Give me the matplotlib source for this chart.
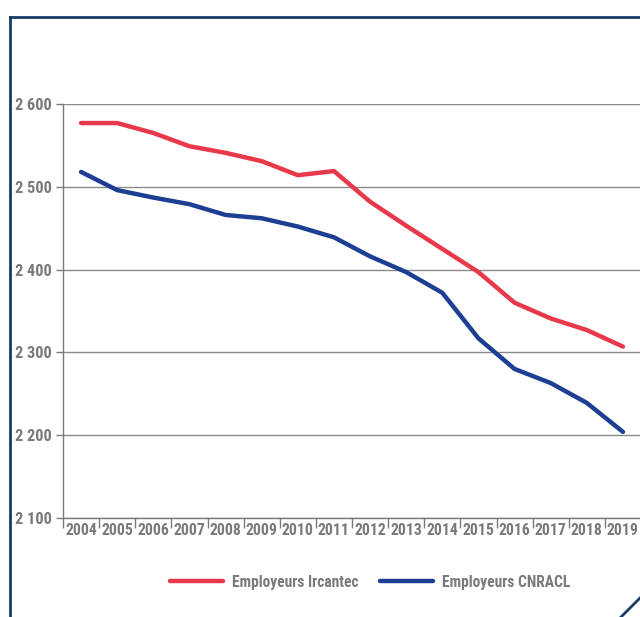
import matplotlib
matplotlib.use("Agg")
import matplotlib.pyplot as plt
from matplotlib.lines import Line2D
from matplotlib import font_manager

years = ["2004", "2005", "2006", "2007", "2008", "2009", "2010", "2011",
         "2012", "2013", "2014", "2015", "2016", "2017", "2018", "2019"]
ircantec = [2577, 2577, 2565, 2549, 2541, 2531, 2514, 2519,
            2482, 2453, 2425, 2397, 2360, 2341, 2327, 2307]
cnracl = [2518, 2496, 2487, 2479, 2466, 2462, 2452, 2439,
          2416, 2397, 2372, 2317, 2280, 2263, 2239, 2204]
y_ticks = [2100, 2200, 2300, 2400, 2500, 2600]
y_labels = ["2 100", "2 200", "2 300", "2 400", "2 500", "2 600"]
series_names = ["Employeurs Ircantec", "Employeurs CNRACL"]

names = {f.name for f in font_manager.fontManager.ttflist}
first = "Roboto Condensed" if "Roboto Condensed" in names else "Liberation Sans"
plt.rcParams["font.family"] = [first, "DejaVu Sans"]
plt.rcParams["font.weight"] = "bold"

RED = "#e8394b"
BLUE = "#1d3f93"
GREY = "#7a7a7a"
FRAME = "#173c68"

W, H = 640, 617
fig = plt.figure(figsize=(W / 100, H / 100), dpi=100)
ax = fig.add_axes([63 / W, (H - 518) / H, 578 / W, (518 - 104) / H])

x = list(range(len(years)))
ax.plot(x, ircantec, color=RED, lw=3.2, solid_capstyle="round", label=series_names[0])
ax.plot(x, cnracl, color=BLUE, lw=3.2, solid_capstyle="round", label=series_names[1])

ax.set_xlim(-0.5, len(years) - 0.5)
ax.set_ylim(2100, 2600)
ax.set_yticks(y_ticks)
ax.set_yticklabels(y_labels)
ax.grid(axis="y", color="#8a8a8a", lw=1)
ax.set_axisbelow(True)

ax.set_xticks([i - 0.5 for i in range(len(years) + 1)])
ax.set_xticklabels([])
ax.set_xticks(x, minor=True)
ax.set_xticklabels(years, minor=True)
ax.tick_params(axis="x", which="major", length=7, color=GREY, width=1)
ax.tick_params(axis="x", which="minor", length=0, pad=3.5, labelsize=11.3, labelcolor=GREY)
ax.tick_params(axis="y", length=5, color=GREY, width=1, labelsize=11.8, labelcolor=GREY, pad=3)

for s in ["top", "right"]:
    ax.spines[s].set_visible(False)
for s in ["left", "bottom"]:
    ax.spines[s].set_color(GREY)
    ax.spines[s].set_linewidth(1)

fig.legend(loc="center", bbox_to_anchor=(370 / W, 1 - 582 / H), ncol=2, frameon=False,
           handlelength=3.4, columnspacing=1.35, handletextpad=0.58,
           prop={"size": 11.2, "weight": "bold"}, labelcolor=GREY)

# frame decorations
fig.add_artist(Line2D([10 / W, 1.0], [1 - 17 / H, 1 - 17 / H], color=FRAME, lw=2, transform=fig.transFigure))
fig.add_artist(Line2D([10 / W, 10 / W], [1 - 17 / H, 0.0], color=FRAME, lw=2, transform=fig.transFigure))
fig.add_artist(Line2D([621 / W, 1.0], [0.0, 1 - 598 / H], color=FRAME, lw=2, transform=fig.transFigure))

fig.savefig("out.png", dpi=100)
